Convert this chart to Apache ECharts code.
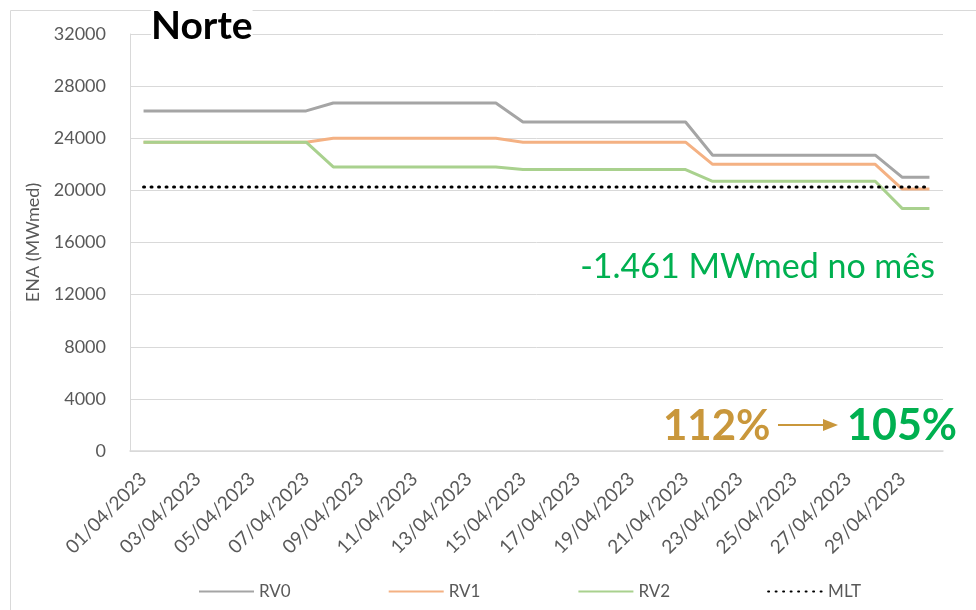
<!DOCTYPE html>
<html>
<head>
<meta charset="utf-8">
<script src="https://cdn.jsdelivr.net/npm/echarts@6/dist/echarts.min.js"></script>
<style>
  html, body { margin: 0; padding: 0; background: #fff; }
  #chart { width: 976px; height: 610px; }
</style>
</head>
<body>
<div id="chart"></div>
<script>
// dias de abril/2023
const days = []
for (let d = 1; d <= 30; d++) {
  days.push((d < 10 ? '0' + d : '' + d) + '/04/2023')
}

// ENA prevista em cada revisão (MWmed)
const rv0 = [26100, 26100, 26100, 26100, 26100, 26100, 26100,
  26700, 26700, 26700, 26700, 26700, 26700, 26700,
  25250, 25250, 25250, 25250, 25250, 25250, 25250,
  22700, 22700, 22700, 22700, 22700, 22700, 22700,
  21000, 21000]
const rv1 = [23700, 23700, 23700, 23700, 23700, 23700, 23700,
  24000, 24000, 24000, 24000, 24000, 24000, 24000,
  23700, 23700, 23700, 23700, 23700, 23700, 23700,
  22000, 22000, 22000, 22000, 22000, 22000, 22000,
  20100, 20100]
const rv2 = [23700, 23700, 23700, 23700, 23700, 23700, 23700,
  21800, 21800, 21800, 21800, 21800, 21800, 21800,
  21600, 21600, 21600, 21600, 21600, 21600, 21600,
  20700, 20700, 20700, 20700, 20700, 20700, 20700,
  18600, 18600]
const mlt = days.map(() => 20250)

const FONT = 'Lato'
const GREY_TXT = '#595959'

const chart = echarts.init(document.getElementById('chart'))

const lineSeries = (name, data, color) => ({
  name: name,
  type: 'line',
  data: data,
  symbol: 'none',
  lineStyle: { color: color, width: 3 },
  itemStyle: { color: color },
})

const option = {
  animation: false,
  textStyle: { fontFamily: FONT },
  grid: { left: 130, right: 33, top: 34, bottom: 159 },
  legend: {
    bottom: 5,
    left: 193,
    itemWidth: 55,
    itemHeight: 14,
    itemGap: 97,
    itemStyle: { opacity: 0 },
    textStyle: { color: GREY_TXT, fontSize: 17, fontFamily: FONT },
    data: ['RV0', 'RV1', 'RV2', 'MLT'],
  },
  xAxis: {
    type: 'category',
    data: days,
    boundaryGap: true,
    axisLine: { lineStyle: { color: '#D9D9D9', width: 1.5 } },
    axisTick: { show: false },
    axisLabel: {
      interval: 1,
      rotate: 45,
      color: GREY_TXT,
      fontSize: 19,
      margin: 25,
      fontFamily: FONT,
    },
  },
  yAxis: {
    type: 'value',
    min: 0,
    max: 32000,
    interval: 4000,
    name: 'ENA (MWmed)',
    nameLocation: 'middle',
    nameGap: 88,
    nameTextStyle: { color: GREY_TXT, fontSize: 18, fontFamily: FONT },
    axisLine: { show: true, lineStyle: { color: '#D9D9D9' } },
    axisTick: { show: false },
    axisLabel: {
      color: GREY_TXT,
      fontSize: 18,
      margin: 24,
      fontFamily: FONT,
      formatter: (v) => String(v),
    },
    splitLine: { lineStyle: { color: '#D9D9D9', width: 1 } },
  },
  series: [
    lineSeries('RV0', rv0, '#A5A5A5'),
    lineSeries('RV1', rv1, '#F4B183'),
    lineSeries('RV2', rv2, '#A9D18E'),
    {
      name: 'MLT',
      type: 'line',
      data: mlt,
      symbol: 'none',
      lineStyle: { color: '#000', width: 3, type: [1, 6.5], cap: 'round' },
      itemStyle: { color: '#000' },
    },
  ],
  graphic: [
    // moldura do gráfico
    {
      type: 'rect',
      shape: { x: 10.5, y: 10.5, width: 975, height: 620 },
      style: { fill: 'none', stroke: '#D9D9D9', lineWidth: 1 },
      silent: true,
    },
    {
      type: 'text',
      left: 151, top: 7,
      z: 100,
      style: {
        text: 'Norte', fill: '#000', font: 'bold 39px ' + FONT,
        backgroundColor: '#fff',
      },
    },
    {
      type: 'text',
      right: 41, top: 250,
      z: 100,
      style: { text: '-1.461 MWmed no mês', fill: '#00B050', font: '34px ' + FONT },
    },
    {
      type: 'text',
      left: 663, top: 405,
      z: 100,
      style: { text: '112%', fill: '#C9973B', font: 'bold 42px ' + FONT },
    },
    {
      type: 'line',
      z: 100,
      shape: { x1: 778, y1: 425, x2: 826, y2: 425 },
      style: { stroke: '#C9973B', lineWidth: 2 },
    },
    {
      type: 'polygon',
      z: 100,
      shape: { points: [[823, 419], [838, 425], [823, 431]] },
      style: { fill: '#C9973B' },
    },
    {
      type: 'text',
      left: 847, top: 405,
      z: 100,
      style: { text: '105%', fill: '#00B050', font: 'bold 43px ' + FONT },
    },
  ],
}

chart.setOption(option)
</script>
</body>
</html>
